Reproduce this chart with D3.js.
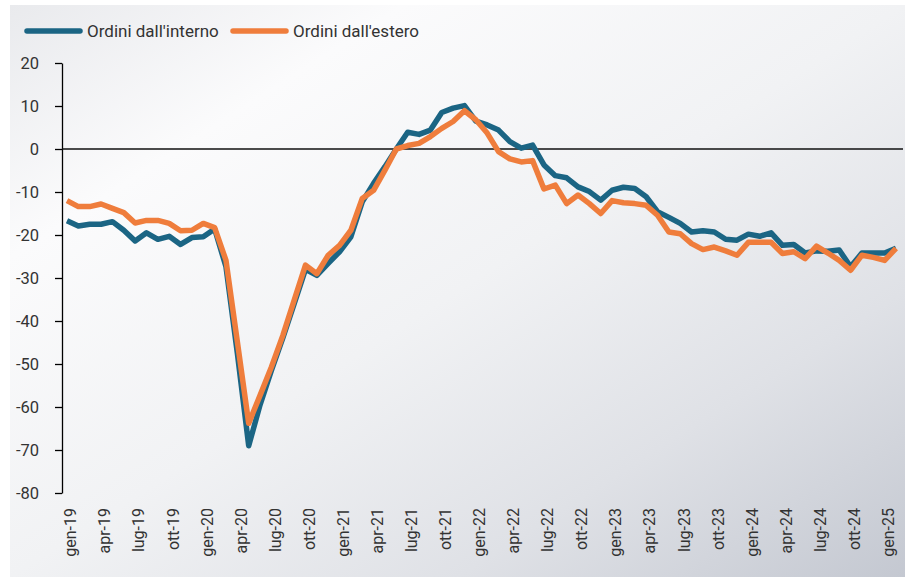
<!DOCTYPE html>
<html>
<head>
<meta charset="utf-8">
<script src="https://cdn.jsdelivr.net/npm/d3@7"></script>
<style>
  body { margin: 0; background: #fff; }
  svg { display: block; font-family: Roboto, "Noto Sans", sans-serif; }
</style>
</head>
<body>
<div class="chart"></div>
<script>
const months = [
  "gen-19","feb-19","mar-19","apr-19","mag-19","giu-19","lug-19","ago-19","set-19","ott-19","nov-19","dic-19",
  "gen-20","feb-20","mar-20","apr-20","mag-20","giu-20","lug-20","ago-20","set-20","ott-20","nov-20","dic-20",
  "gen-21","feb-21","mar-21","apr-21","mag-21","giu-21","lug-21","ago-21","set-21","ott-21","nov-21","dic-21",
  "gen-22","feb-22","mar-22","apr-22","mag-22","giu-22","lug-22","ago-22","set-22","ott-22","nov-22","dic-22",
  "gen-23","feb-23","mar-23","apr-23","mag-23","giu-23","lug-23","ago-23","set-23","ott-23","nov-23","dic-23",
  "gen-24","feb-24","mar-24","apr-24","mag-24","giu-24","lug-24","ago-24","set-24","ott-24","nov-24","dic-24",
  "gen-25","feb-25"
];

const interno = [
  -16.7, -17.9, -17.5, -17.5, -16.9, -18.9, -21.4, -19.5, -21.0, -20.3, -22.2, -20.6,
  -20.4, -18.6, -27.4, -47.5, -69.0, -59.5, -51.5, -44.0, -36.0, -28.0, -29.4, -26.6,
  -23.9, -20.4, -12.3, -8.0, -4.1, 0.0, 3.9, 3.4, 4.4, 8.5, 9.5, 10.1,
  6.5, 5.6, 4.4, 1.7, 0.2, 0.9, -3.7, -6.2, -6.7, -8.8, -9.9, -11.9,
  -9.6, -8.9, -9.2, -11.1, -14.6, -15.9, -17.3, -19.3, -19.0, -19.3, -21.0, -21.2,
  -19.8, -20.3, -19.5, -22.4, -22.2, -24.2, -23.7, -23.8, -23.5, -27.4, -24.2, -24.2,
  -24.2, -23.1
];

const estero = [
  -12.0, -13.4, -13.4, -12.8, -13.8, -14.8, -17.2, -16.6, -16.6, -17.3, -19.0, -18.9,
  -17.3, -18.3, -25.9, -44.8, -63.8, -57.3, -50.7, -43.4, -35.2, -27.0, -29.0, -24.7,
  -22.4, -18.9, -11.5, -9.6, -4.9, 0.0, 0.8, 1.3, 2.9, 4.8, 6.4, 8.9,
  6.8, 3.7, -0.6, -2.3, -3.0, -2.7, -9.3, -8.4, -12.7, -10.7, -12.7, -15.0,
  -12.0, -12.5, -12.7, -13.1, -15.4, -19.3, -19.7, -22.0, -23.4, -22.8, -23.7, -24.7,
  -21.7, -21.7, -21.7, -24.3, -23.9, -25.5, -22.6, -24.2, -25.9, -28.2, -24.7, -25.2,
  -25.9, -23.1
];

const tickLabels = [
  "gen-19","apr-19","lug-19","ott-19","gen-20","apr-20","lug-20","ott-20",
  "gen-21","apr-21","lug-21","ott-21","gen-22","apr-22","lug-22","ott-22",
  "gen-23","apr-23","lug-23","ott-23","gen-24","apr-24","lug-24","ott-24","gen-25"
];

const yTicks = [20, 10, 0, -10, -20, -30, -40, -50, -60, -70, -80];

const seriesNames = ["Ordini dall'interno", "Ordini dall'estero"];
const seriesColours = ["#1b6584", "#ef7d3c"];

const width = 911;
const height = 577;
const textColour = "#333";

const svg = d3
  .select(".chart")
  .append("svg")
  .attr("width", width)
  .attr("height", height);

// Panel background
const grad = svg
  .append("defs")
  .append("linearGradient")
  .attr("id", "bg")
  .attr("x1", 0)
  .attr("y1", 0)
  .attr("x2", 1)
  .attr("y2", 1);
grad.append("stop").attr("offset", 0).attr("stop-color", "#e9eaed");
grad.append("stop").attr("offset", 0.22).attr("stop-color", "#fbfbfc");
grad.append("stop").attr("offset", 0.5).attr("stop-color", "#f1f2f4");
grad.append("stop").attr("offset", 0.75).attr("stop-color", "#dfe1e6");
grad.append("stop").attr("offset", 1).attr("stop-color", "#c4c8d1");

svg
  .append("rect")
  .attr("x", 10)
  .attr("y", 5)
  .attr("width", 895)
  .attr("height", 572)
  .attr("fill", "url(#bg)");

const xScale = d3.scalePoint().domain(months).range([67, 896]);
const yScale = d3.scaleLinear().domain([-80, 20]).range([493, 63]);

// Y axis (plain hyphen for negatives, as in the original)
const yAxis = svg
  .append("g")
  .attr("transform", "translate(62, 0)")
  .call(
    d3
      .axisLeft(yScale)
      .tickValues(yTicks)
      .tickFormat((d) => String(d))
      .tickSize(7)
      .tickSizeOuter(0)
      .tickPadding(16)
  );
yAxis.select(".domain").attr("stroke", "#000").attr("stroke-width", 1.3);
yAxis.selectAll(".tick line").attr("stroke", "#000").attr("stroke-width", 1.3);
yAxis
  .selectAll(".tick text")
  .attr("font-size", "16.5px")
  .attr("font-family", "Roboto")
  .attr("fill", textColour);

// X axis labels only
const xAxis = svg
  .append("g")
  .attr("transform", "translate(0, 493)")
  .call(d3.axisBottom(xScale).tickValues(tickLabels).tickSize(0).tickPadding(0));
xAxis.select(".domain").remove();
xAxis
  .selectAll(".tick text")
  .attr("font-size", "16px")
  .attr("font-family", "Roboto")
  .attr("fill", textColour)
  .attr("text-anchor", "end")
  .attr("transform", "rotate(-90)")
  .attr("x", -15)
  .attr("y", 0)
  .attr("dy", "0.55em");

// Zero line
svg
  .append("line")
  .attr("x1", 62)
  .attr("x2", 903)
  .attr("y1", yScale(0))
  .attr("y2", yScale(0))
  .attr("stroke", "#111")
  .attr("stroke-width", 1.3);

// Lines
const line = d3
  .line()
  .x((d, i) => xScale(months[i]))
  .y((d) => yScale(d));

[interno, estero].forEach((series, k) => {
  svg
    .append("path")
    .datum(series)
    .attr("fill", "none")
    .attr("stroke", seriesColours[k])
    .attr("stroke-width", 5.5)
    .attr("stroke-linejoin", "round")
    .attr("d", line);
});

// Legend
const legendX = [27, 233];
seriesNames.forEach((name, k) => {
  const g = svg.append("g").attr("transform", `translate(${legendX[k]}, 31)`);
  g.append("line")
    .attr("x1", 0)
    .attr("x2", 53)
    .attr("stroke", seriesColours[k])
    .attr("stroke-width", 5.5)
    .attr("stroke-linecap", "round");
  g.append("text")
    .attr("x", 60)
    .attr("y", 6)
    .attr("font-size", "17px")
    .attr("font-family", "Roboto")
    .attr("fill", textColour)
    .text(name);
});
</script>
</body>
</html>
